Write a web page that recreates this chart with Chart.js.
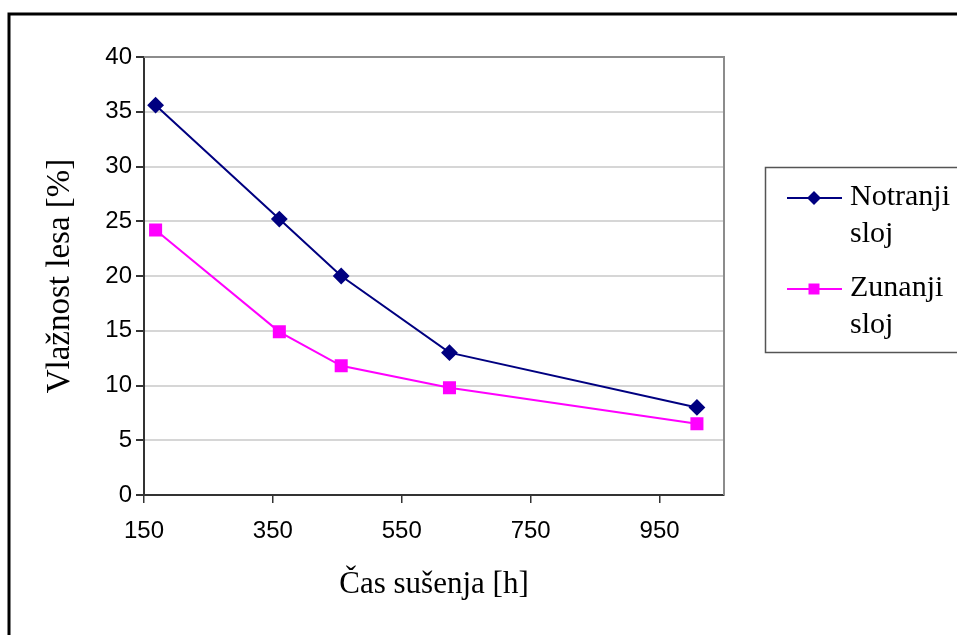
<!DOCTYPE html>
<html>
<head>
<meta charset="utf-8">
<script src="https://cdn.jsdelivr.net/npm/chart.js@4"></script>
<style>
  body { margin: 0; background: #fff; }
  #wrap { width: 957px; height: 635px; position: relative; }
</style>
</head>
<body>
<div id="wrap"><canvas id="moistureChart"></canvas></div>
<script>
// data
var hours = [168, 360, 456, 624, 1008];
var innerLayer = [35.6, 25.2, 20.0, 13.0, 8.0];
var outerLayer = [24.2, 14.9, 11.8, 9.8, 6.5];
var xTicks = [150, 350, 550, 750, 950];
var yTicks = [0, 5, 10, 15, 20, 25, 30, 35, 40];
var seriesNames = ['Notranji sloj', 'Zunanji sloj'];

function toPoints(xs, ys) {
    return xs.map(function (x, i) { return { x: x, y: ys[i] }; });
}

// frame, plot border and legend box like the excel original
var decorPlugin = {
    id: 'decor',
    beforeDraw: function (chart) {
        var c = chart.ctx;
        c.save();
        c.fillStyle = '#ffffff';
        c.fillRect(0, 0, chart.width, chart.height);
        c.strokeStyle = '#000000';
        c.lineWidth = 3;
        c.beginPath();
        c.moveTo(9, chart.height + 2);
        c.lineTo(9, 14);
        c.lineTo(chart.width + 2, 14);
        c.stroke();
        c.restore();
    },
    afterDatasetsDraw: function (chart) {
        var c = chart.ctx;
        var a = chart.chartArea;
        c.save();
        c.strokeStyle = '#8c8c8c';
        c.lineWidth = 2;
        c.beginPath();
        c.moveTo(a.left, a.top);
        c.lineTo(a.right, a.top);
        c.lineTo(a.right, a.bottom);
        c.stroke();

        // legend
        c.strokeStyle = '#555555';
        c.lineWidth = 1.5;
        c.strokeRect(765.5, 167.5, 220, 185);
        c.font = '30px "Liberation Serif", "Times New Roman", serif';
        c.textBaseline = 'middle';
        c.fillStyle = '#000000';
        var rowY = [198, 289];
        chart.data.datasets.forEach(function (ds, i) {
            var y = rowY[i];
            c.strokeStyle = ds.borderColor;
            c.lineWidth = 2;
            c.beginPath();
            c.moveTo(787, y);
            c.lineTo(842, y);
            c.stroke();
            c.fillStyle = ds.backgroundColor;
            c.beginPath();
            if (ds.pointStyle === 'rectRot') {
                c.moveTo(814, y - 7);
                c.lineTo(821, y);
                c.lineTo(814, y + 7);
                c.lineTo(807, y);
            } else {
                c.rect(808.5, y - 5.5, 11, 11);
            }
            c.fill();
            c.fillStyle = '#000000';
            var words = ds.label.split(' ');
            c.fillText(words[0], 850, y - 1);
            c.fillText(words[1], 850, y + 36);
        });
        c.restore();
    }
};

var ctx = document.getElementById('moistureChart').getContext('2d');
var moistureChart = new Chart(ctx, {
    type: 'line',
    data: {
        datasets: [{
            label: seriesNames[0],
            data: toPoints(hours, innerLayer),
            borderColor: '#000080',
            backgroundColor: '#000080',
            borderWidth: 2,
            pointStyle: 'rectRot',
            pointRadius: 7,
            pointHoverRadius: 7,
            tension: 0
        }, {
            label: seriesNames[1],
            data: toPoints(hours, outerLayer),
            borderColor: '#FF00FF',
            backgroundColor: '#FF00FF',
            borderWidth: 2,
            pointStyle: 'rect',
            pointRadius: 7.8,
            pointHoverRadius: 7.8,
            tension: 0
        }]
    },
    options: {
        responsive: true,
        maintainAspectRatio: false,
        animation: false,
        layout: { padding: { left: 0, top: 57, right: 233, bottom: 0 } },
        scales: {
            x: {
                type: 'linear',
                min: 150,
                max: 1050,
                afterBuildTicks: function (s) {
                    s.ticks = xTicks.map(function (v) { return { value: v }; });
                },
                afterFit: function (s) { s.height = 140; },
                grid: { drawOnChartArea: false, drawTicks: true, tickLength: 8, tickColor: '#333333', lineWidth: 1.5 },
                border: { color: '#333333', width: 2 },
                ticks: {
                    color: '#000000',
                    padding: 14,
                    maxRotation: 0,
                    font: { family: '"Liberation Sans", Arial, sans-serif', size: 24 }
                },
                title: {
                    display: true,
                    text: 'Čas sušenja [h]',
                    color: '#000000',
                    padding: { top: 0, bottom: 32 },
                    font: { family: '"Liberation Serif", "Times New Roman", serif', size: 31 }
                }
            },
            y: {
                min: 0,
                max: 40,
                afterBuildTicks: function (s) {
                    s.ticks = yTicks.map(function (v) { return { value: v }; });
                },
                afterFit: function (s) { s.width = 144; },
                grid: {
                    color: function (c) { return c.tick && (c.tick.value === 0 || c.tick.value === 40) ? 'rgba(0,0,0,0)' : '#d6d6d6'; },
                    lineWidth: 2,
                    drawTicks: true,
                    tickLength: 8,
                    tickColor: '#333333'
                },
                border: { color: '#333333', width: 2 },
                ticks: {
                    color: '#000000',
                    padding: 4,
                    font: { family: '"Liberation Sans", Arial, sans-serif', size: 24 }
                },
                title: {
                    display: true,
                    text: 'Vlažnost lesa [%]',
                    color: '#000000',
                    padding: { top: 41, bottom: 0 },
                    font: { family: '"Liberation Serif", "Times New Roman", serif', size: 33 }
                }
            }
        },
        plugins: {
            legend: { display: false },
            tooltip: { enabled: false }
        }
    },
    plugins: [decorPlugin]
});
</script>
</body>
</html>
